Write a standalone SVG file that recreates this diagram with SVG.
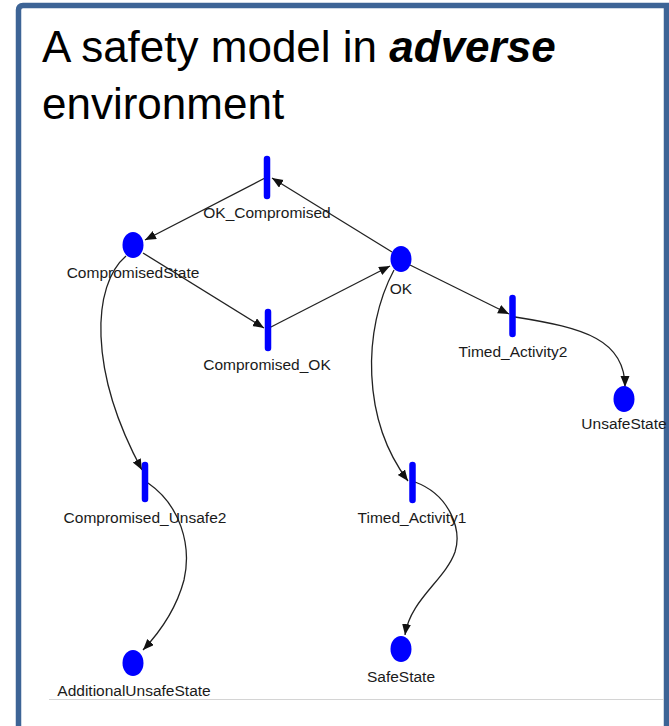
<svg xmlns="http://www.w3.org/2000/svg" width="669" height="726" viewBox="0 0 669 726">
<defs>
<style>
.frame{fill:none;stroke:#3d6496;stroke-width:5.5}
.title{font-family:"Liberation Sans",Arial,sans-serif;font-size:44px;fill:#000}
.place{fill:#0000ff}
.trans{stroke:#0000ff;stroke-width:6.5;stroke-linecap:round}
.lbl{font-family:"Liberation Sans",Arial,sans-serif;font-size:15.5px;fill:#1a1a1a;text-anchor:middle}
.edge{fill:none;stroke:#222;stroke-width:1.3}
</style>
<marker id="arr" markerWidth="12" markerHeight="10" refX="11" refY="4.5" orient="auto" markerUnits="userSpaceOnUse">
<path d="M0,0 L11,4.5 L0,9 z" fill="#111"/>
</marker>
</defs>
<rect x="0" y="0" width="669" height="726" fill="#fff"/>
<path class="frame" d="M18.5,726 V10 Q18.5,5.5 23,5.5 H666.5 V726"/>
<line x1="49" y1="699.5" x2="664" y2="699.5" stroke="#d4d4d4" stroke-width="1.2"/>
<g id="title">
<text class="title" x="42" y="62">A safety model in <tspan font-weight="bold" font-style="italic">adverse</tspan></text>
<text class="title" x="42" y="119">environment</text>
</g>
<g id="connectors">
<line class="edge" x1="392" y1="252" x2="272" y2="178" marker-end="url(#arr)"/>
<line class="edge" x1="265" y1="178" x2="145" y2="240" marker-end="url(#arr)"/>
<line class="edge" x1="143" y1="253" x2="264" y2="328" marker-end="url(#arr)"/>
<line class="edge" x1="269" y1="328" x2="390" y2="266" marker-end="url(#arr)"/>
<line class="edge" x1="410" y1="265" x2="509" y2="314" marker-end="url(#arr)"/>
<path class="edge" d="M515,317 C585,328 625,340 625,387" marker-end="url(#arr)"/>
<path class="edge" d="M394,270 C362,330 362,420 408,481" marker-end="url(#arr)"/>
<path class="edge" d="M415,482 C450,495 462,530 455,552 C445,580 410,600 405,635" marker-end="url(#arr)"/>
<path class="edge" d="M126,256 C92,285 88,370 142,470" marker-end="url(#arr)"/>
<path class="edge" d="M148,483 C180,505 192,545 184,580 C176,610 160,632 143,650" marker-end="url(#arr)"/>
</g>
<g id="OK_Compromised">
<line class="trans" x1="267" y1="159" x2="267" y2="196"/>
<text class="lbl" x="267" y="218">OK_Compromised</text>
</g>
<g id="CompromisedState">
<ellipse class="place" cx="133" cy="245" rx="10.5" ry="13"/>
<text class="lbl" x="133" y="278">CompromisedState</text>
</g>
<g id="OK">
<ellipse class="place" cx="401" cy="259" rx="10.5" ry="13"/>
<text class="lbl" x="401" y="294">OK</text>
</g>
<g id="Compromised_OK">
<line class="trans" x1="268" y1="312" x2="268" y2="348"/>
<text class="lbl" x="267" y="370">Compromised_OK</text>
</g>
<g id="Timed_Activity2">
<line class="trans" x1="512.5" y1="298" x2="512.5" y2="334"/>
<text class="lbl" x="513" y="357">Timed_Activity2</text>
</g>
<g id="UnsafeState">
<ellipse class="place" cx="624" cy="399" rx="10.5" ry="13"/>
<text class="lbl" x="624" y="429">UnsafeState</text>
</g>
<g id="Compromised_Unsafe2">
<line class="trans" x1="145" y1="465" x2="145" y2="499"/>
<text class="lbl" x="145" y="523">Compromised_Unsafe2</text>
</g>
<g id="Timed_Activity1">
<line class="trans" x1="412.5" y1="465" x2="412.5" y2="500"/>
<text class="lbl" x="412" y="523">Timed_Activity1</text>
</g>
<g id="SafeState">
<ellipse class="place" cx="401" cy="649" rx="10.5" ry="13"/>
<text class="lbl" x="401" y="682">SafeState</text>
</g>
<g id="AdditionalUnsafeState">
<ellipse class="place" cx="133" cy="663" rx="10.5" ry="13"/>
<text class="lbl" x="134" y="696">AdditionalUnsafeState</text>
</g>
</svg>
